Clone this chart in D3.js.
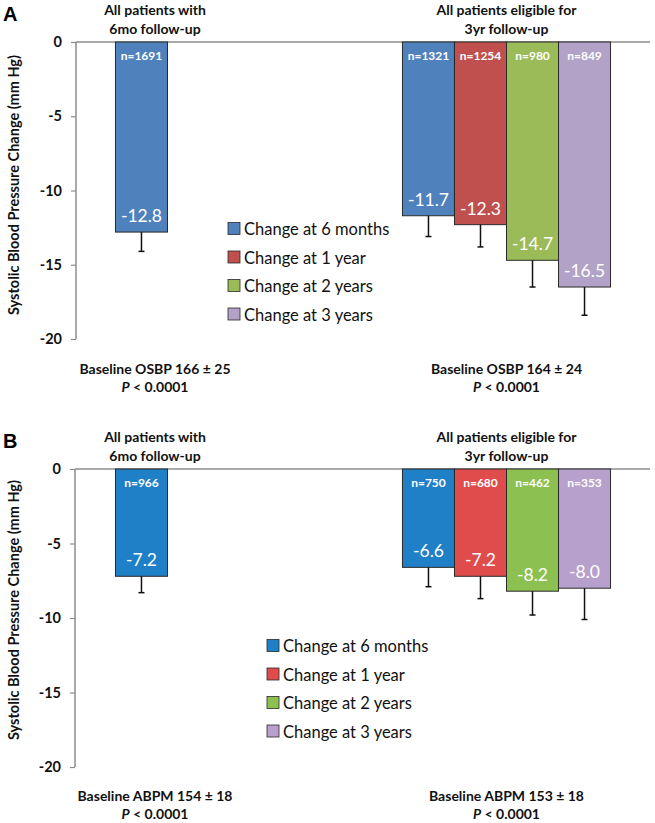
<!DOCTYPE html>
<html><head><meta charset="utf-8">
<script src="https://cdn.jsdelivr.net/npm/d3@7"></script>
<style>
body{margin:0;background:#fff;}
svg{display:block;}
text{font-family:Lato,"Open Sans",sans-serif;}
</style></head>
<body>
<svg id="chart" width="655" height="823"></svg>
<script>
// ---- data ----
const categories = ["All patients with 6mo follow-up", "All patients eligible for 3yr follow-up"];
const seriesNames = ["Change at 6 months", "Change at 1 year", "Change at 2 years", "Change at 3 years"];
const yTicks = [0, -5, -10, -15, -20];

// Panel A (office SBP)
const aValues6mo = [-12.8];
const aN6mo = [1691];
const aErr6mo = [1.3];
const aValues3yr = [-11.7, -12.3, -14.7, -16.5];
const aN3yr = [1321, 1254, 980, 849];
const aErr3yr = [1.4, 1.5, 1.8, 1.9];
const aBaseline = ["Baseline OSBP 166 \u00b1 25", "Baseline OSBP 164 \u00b1 24"];
const aColors = ["#4F81BD", "#C0504D", "#9BBB59", "#B3A2C7"];

// Panel B (ABPM)
const bValues6mo = [-7.2];
const bN6mo = [966];
const bErr6mo = [1.1];
const bValues3yr = [-6.6, -7.2, -8.2, -8.0];
const bN3yr = [750, 680, 462, 353];
const bErr3yr = [1.3, 1.5, 1.6, 2.1];
const bBaseline = ["Baseline ABPM 154 \u00b1 18", "Baseline ABPM 153 \u00b1 18"];
const bColors = ["#1F7FC7", "#E04B4B", "#8CC152", "#B7A1CC"];

const yTitle = "Systolic Blood Pressure Change (mm Hg)";
const pText = "< 0.0001";

const svg = d3.select("#chart");

function panel(cfg) {
  const g = svg.append("g");
  const y = d3.scaleLinear().domain([0, -20]).range([cfg.top, cfg.bottom]);
  const x0 = d3.scaleBand().domain(categories).range([76, 650]).paddingInner(0.275).paddingOuter(0.1375);
  const x1 = d3.scaleBand().domain(seriesNames).range([0, x0.bandwidth()]);

  // panel letter
  g.append("text").attr("x", 3).attr("y", cfg.top - 21)
    .style("font-family", "'Liberation Sans',Arial,sans-serif")
    .style("font-weight", "bold").style("font-size", "20px").text(cfg.letter);

  // y axis
  const axis = g.append("g").attr("transform", `translate(${cfg.axisX},0)`)
    .call(d3.axisLeft(y).tickValues(yTicks).tickSize(5).tickPadding(9).tickFormat(d => String(d)));
  axis.select(".domain").attr("stroke", "#8c8c8c").attr("stroke-width", 1.5).attr("d", `M0,${cfg.top}V${cfg.bottom}`);
  axis.selectAll(".tick line").attr("stroke", "#8c8c8c").attr("stroke-width", 1.2);
  axis.selectAll(".tick text").style("font-weight", "bold").style("font-size", "14.5px")
    .style("font-family", "Lato,sans-serif").attr("fill", "#111");

  // zero baseline
  g.append("line").attr("x1", cfg.axisX).attr("x2", 650).attr("y1", y(0)).attr("y2", y(0))
    .attr("stroke", "#8c8c8c").attr("stroke-width", 1.5);

  // y title
  g.append("text").attr("transform", `translate(19,${cfg.titleY}) rotate(-90)`)
    .attr("text-anchor", "middle").style("font-weight", "bold").style("font-size", "14.5px")
    .attr("fill", "#111").text(yTitle);

  // bars
  const rows = [];
  cfg.v6.forEach((v, i) => rows.push({cat: categories[0], s: seriesNames[i], v, n: cfg.n6[i], e: cfg.e6[i], c: cfg.colors[i]}));
  cfg.v3.forEach((v, i) => rows.push({cat: categories[1], s: seriesNames[i], v, n: cfg.n3[i], e: cfg.e3[i], c: cfg.colors[i]}));

  const bx = d => x0(d.cat) + x1(d.s);
  const bw = x1.bandwidth();

  g.selectAll(".bar").data(rows).join("rect")
    .attr("x", bx).attr("y", y(0)).attr("width", bw).attr("height", d => y(d.v) - y(0))
    .attr("fill", d => d.c).attr("stroke", "#2a2a2a").attr("stroke-width", 1);

  // error bars
  const eb = g.selectAll(".err").data(rows).join("g");
  eb.append("line").attr("x1", d => bx(d) + bw / 2).attr("x2", d => bx(d) + bw / 2)
    .attr("y1", d => y(d.v)).attr("y2", d => y(d.v - d.e)).attr("stroke", "#111").attr("stroke-width", 1.5);
  eb.append("line").attr("x1", d => bx(d) + bw / 2 - 3).attr("x2", d => bx(d) + bw / 2 + 3)
    .attr("y1", d => y(d.v - d.e)).attr("y2", d => y(d.v - d.e)).attr("stroke", "#111").attr("stroke-width", 1.5);

  // n labels
  g.selectAll(".nl").data(rows).join("text")
    .attr("x", d => bx(d) + bw / 2).attr("y", y(0) + 18).attr("text-anchor", "middle")
    .attr("fill", "#fff").style("font-weight", "bold").style("font-size", "12px")
    .text(d => "n=" + d.n);

  // value labels
  g.selectAll(".vl").data(rows).join("text")
    .attr("x", d => bx(d) + bw / 2).attr("y", d => y(d.v) - 10).attr("text-anchor", "middle")
    .attr("fill", "#fff").style("font-size", "17.5px")
    .text(d => d.v.toFixed(1));

  // group titles
  const tx = [155, x0(categories[1]) + x0.bandwidth() / 2];
  const titleLines = [["All patients with", "6mo follow-up"], ["All patients eligible for", "3yr follow-up"]];
  titleLines.forEach((lines, i) => {
    lines.forEach((t, j) => {
      g.append("text").attr("x", tx[i]).attr("y", cfg.top - 27 + j * 19).attr("text-anchor", "middle")
        .style("font-weight", "bold").style("font-size", "14px").attr("fill", "#111").text(t);
    });
  });

  // baseline + p text
  cfg.baseline.forEach((t, i) => {
    const bxC = i === 0 ? 155 : tx[1];
    g.append("text").attr("x", bxC).attr("y", cfg.footY).attr("text-anchor", "middle")
      .style("font-weight", "bold").style("font-size", "14px").attr("fill", "#111").text(t);
    const p = g.append("text").attr("x", bxC).attr("y", cfg.footY + 18).attr("text-anchor", "middle")
      .style("font-weight", "bold").style("font-size", "14px").attr("fill", "#111");
    p.append("tspan").style("font-style", "italic").text("P");
    p.append("tspan").text(" " + pText);
  });

  // legend
  const lg = g.append("g").attr("transform", `translate(${cfg.legX},${cfg.legY})`);
  seriesNames.forEach((s, i) => {
    const r = lg.append("g").attr("transform", `translate(0,${i * 28.5})`);
    r.append("rect").attr("x", 0).attr("y", -6.5).attr("width", 12).attr("height", 12)
      .attr("fill", cfg.colors[i]).attr("stroke", "#2a2a2a").attr("stroke-width", 0.8);
    r.append("text").attr("x", 16).attr("y", 6).style("font-size", "16.5px").attr("fill", "#111").text(s);
  });
}

panel({letter: "A", top: 42, bottom: 339, axisX: 76, titleY: 185, footY: 374,
  v6: aValues6mo, n6: aN6mo, e6: aErr6mo, v3: aValues3yr, n3: aN3yr, e3: aErr3yr,
  colors: aColors, baseline: aBaseline, legX: 228, legY: 229});
panel({letter: "B", top: 469, bottom: 767, axisX: 75, titleY: 610, footY: 801,
  v6: bValues6mo, n6: bN6mo, e6: bErr6mo, v3: bValues3yr, n3: bN3yr, e3: bErr3yr,
  colors: bColors, baseline: bBaseline, legX: 267, legY: 646});
</script>
</body></html>
